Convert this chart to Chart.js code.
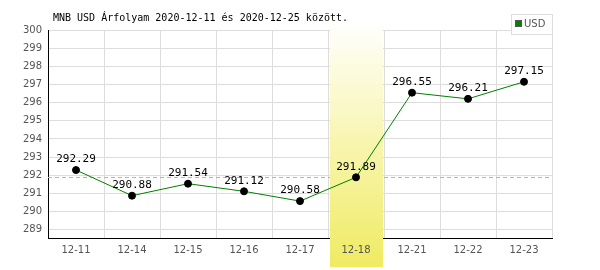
<!DOCTYPE html>
<html>
<head>
<meta charset="utf-8">
<script src="https://cdn.jsdelivr.net/npm/chart.js@4/dist/chart.umd.min.js"></script>
<style>
  body { margin: 0; background: #fff; }
  #chart1 { display: block; }
</style>
</head>
<body>
<canvas id="chart1" width="600" height="270"></canvas>
<script>
const titleText = 'MNB USD Árfolyam 2020-12-11 és 2020-12-25 között.';
const seriesName = 'USD';
const days = ['12-11', '12-14', '12-15', '12-16', '12-17', '12-18', '12-21', '12-22', '12-23'];
const rates = [292.29, 290.88, 291.54, 291.12, 290.58, 291.89, 296.55, 296.21, 297.15];
const yTicks = [289, 290, 291, 292, 293, 294, 295, 296, 297, 298, 299, 300];
const markedDay = '12-18';
const refRate = 291.89;

// dashed reference line + yellow column, under the line
const backdrop = {
    id: 'backdrop',
    beforeDatasetsDraw(chart) {
        const ctx = chart.ctx;
        const area = chart.chartArea;
        const x = chart.scales.x;
        const y = chart.scales.y;

        ctx.save();
        ctx.strokeStyle = '#8fcf8f';
        ctx.lineWidth = 1;
        ctx.setLineDash([4, 3]);
        const ry = Math.round(y.getPixelForValue(refRate)) + 0.5;
        ctx.beginPath();
        ctx.moveTo(area.left, ry);
        ctx.lineTo(area.right, ry);
        ctx.stroke();
        ctx.setLineDash([]);

        const idx = days.indexOf(markedDay);
        const half = (x.getPixelForValue(1) - x.getPixelForValue(0)) / 2;
        const cx = x.getPixelForValue(idx);
        const top = area.top - 10;
        const bottom = chart.height - 3;
        const grad = ctx.createLinearGradient(0, top, 0, bottom);
        grad.addColorStop(0, '#ffffff');
        grad.addColorStop(0.5, '#f8f5b0');
        grad.addColorStop(1, '#efeb62');
        ctx.fillStyle = grad;
        ctx.fillRect(Math.round(cx - half + 2), top, Math.round(2 * half - 3), bottom - top);
        ctx.restore();
    }
};

// title, value labels, legend box
const overlay = {
    id: 'overlay',
    afterDraw(chart) {
        const ctx = chart.ctx;
        ctx.save();
        ctx.fillStyle = '#000';
        ctx.font = '10px "DejaVu Sans Mono"';
        ctx.textAlign = 'left';
        ctx.textBaseline = 'middle';
        ctx.fillText(titleText, 53, 18);

        ctx.font = '11px "DejaVu Sans Mono"';
        ctx.textAlign = 'center';
        ctx.textBaseline = 'bottom';
        chart.getDatasetMeta(0).data.forEach((pt, i) => {
            ctx.fillText(rates[i].toFixed(2), pt.x, pt.y - 5);
        });

        ctx.fillStyle = '#fff';
        ctx.fillRect(511, 14, 41, 20);
        ctx.strokeStyle = '#dddddd';
        ctx.lineWidth = 1;
        ctx.strokeRect(511.5, 14.5, 41, 20);
        ctx.fillStyle = '#008000';
        ctx.fillRect(515, 20, 7, 7);
        ctx.strokeStyle = '#555';
        ctx.strokeRect(515.5, 20.5, 6, 6);
        ctx.fillStyle = '#555';
        ctx.font = '10px "DejaVu Sans"';
        ctx.textAlign = 'left';
        ctx.textBaseline = 'middle';
        ctx.fillText(seriesName, 524, 24);
        ctx.restore();
    }
};

const ctx = document.getElementById('chart1').getContext('2d');
const myChart = new Chart(ctx, {
    type: 'line',
    data: {
        labels: days,
        datasets: [{
            label: seriesName,
            data: rates,
            borderColor: '#008000',
            borderWidth: 1,
            backgroundColor: '#000',
            pointBackgroundColor: '#000',
            pointBorderColor: '#000',
            pointRadius: 3.5,
            pointBorderWidth: 1,
            tension: 0,
            fill: false
        }]
    },
    options: {
        responsive: false,
        animation: false,
        devicePixelRatio: 1,
        layout: { padding: { top: 30, right: 48, left: 0, bottom: 0 } },
        plugins: {
            legend: { display: false },
            title: { display: false },
            tooltip: { enabled: false }
        },
        scales: {
            x: {
                offset: true,
                grid: { color: '#dddddd', offset: true, drawTicks: false },
                border: { color: '#000', width: 1 },
                ticks: {
                    color: '#555',
                    font: { family: 'DejaVu Sans', size: 10 },
                    padding: 6,
                    maxRotation: 0,
                    z: 1
                },
                afterFit(scale) { scale.height = 32; }
            },
            y: {
                min: 288.55,
                max: 300,
                grid: { color: '#dddddd', drawTicks: false },
                border: { color: '#000', width: 1 },
                ticks: {
                    color: '#555',
                    font: { family: 'DejaVu Sans', size: 10 },
                    padding: 6
                },
                afterBuildTicks(scale) {
                    scale.ticks = yTicks.map(v => ({ value: v }));
                },
                afterFit(scale) { scale.width = 48; }
            }
        }
    },
    plugins: [backdrop, overlay]
});
</script>
</body>
</html>
